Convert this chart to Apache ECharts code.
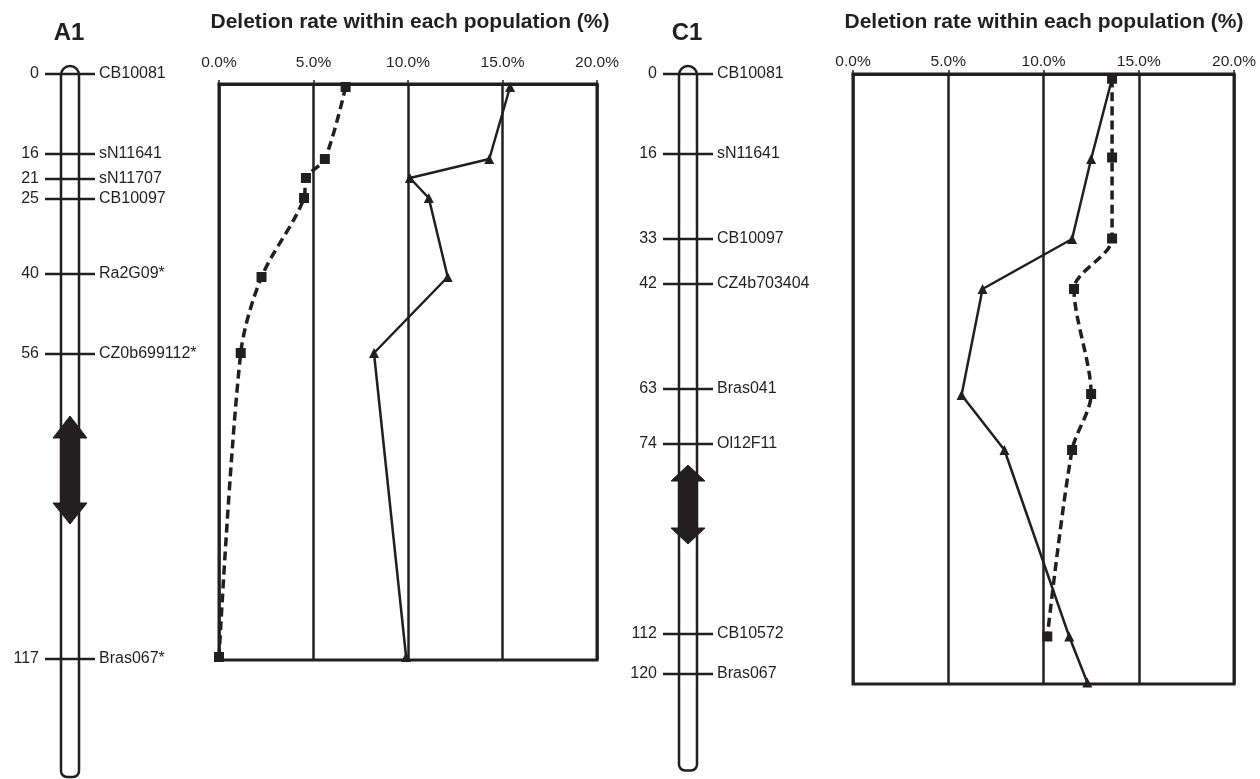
<!DOCTYPE html>
<html>
<head>
<meta charset="utf-8">
<script src="https://cdn.jsdelivr.net/npm/echarts@6/dist/echarts.min.js"></script>
<style>
html,body{margin:0;padding:0;background:#fff;}
#chart{width:1260px;height:779px;}
</style>
</head>
<body>
<div id="chart"></div>
<script>
// ---------- DATA ----------
const chartTitle = 'Deletion rate within each population (%)';
const rateTicks = [0, 5, 10, 15, 20];

// Linkage group A1
const A1_markerPos = [0, 16, 21, 25, 40, 56, 117];
const A1_markerNames = ['CB10081', 'sN11641', 'sN11707', 'CB10097', 'Ra2G09*', 'CZ0b699112*', 'Bras067*'];
const A1_chromExtent = [-1.6, 140.6];
const A1_arrow = [68.4, 72.8, 85.8, 90];
const A1_plotPos = [2.6, 17, 20.8, 24.8, 40.6, 55.8, 116.6];
const A1_rateSquares = [6.7, 5.6, 4.6, 4.5, 2.25, 1.15, 0.0];
const A1_rateTriangles = [15.4, 14.3, 10.1, 11.1, 12.1, 8.2, 9.9];

// Linkage group C1
const C1_markerPos = [0, 16, 33, 42, 63, 74, 112, 120];
const C1_markerNames = ['CB10081', 'sN11641', 'CB10097', 'CZ4b703404', 'Bras041', 'Ol12F11', 'CB10572', 'Bras067'];
const C1_chromExtent = [-1.6, 139.3];
const C1_arrow = [78.2, 81.4, 90.8, 94];
const C1_squarePos = [0.9, 16.7, 32.9, 43, 64, 75.2, 112.5];
const C1_rateSquares = [13.6, 13.6, 13.6, 11.6, 12.5, 11.5, 10.2];
const C1_trianglePos = [0.9, 17, 33, 43, 64.2, 75.2, 112.5, 121.7];
const C1_rateTriangles = [13.6, 12.5, 11.5, 6.8, 5.7, 7.95, 11.35, 12.3];

// ---------- RENDER ----------
const INK = '#231f20';
const FONT = '"Liberation Sans", Arial, Helvetica, sans-serif';

function zip(xs, ys) { return xs.map((x, i) => [x, ys[i]]); }

function bodyRender(params, api) {
  const t = api.coord([0, api.value(0)]);
  const b = api.coord([0, api.value(1)]);
  const w = 18;
  return {
    type: 'rect',
    shape: { x: t[0] - w / 2, y: t[1], width: w, height: b[1] - t[1], r: [9, 9, 6, 6] },
    style: { fill: '#fff', stroke: INK, lineWidth: 2.5 }
  };
}

function arrowRender(params, api) {
  const c = api.coord([0, api.value(0)]);
  const y1 = c[1];
  const y2 = api.coord([0, api.value(1)])[1];
  const y3 = api.coord([0, api.value(2)])[1];
  const y4 = api.coord([0, api.value(3)])[1];
  const x = c[0], hw = 17, sw = 9.5;
  return {
    type: 'polygon',
    shape: { points: [
      [x, y1], [x + hw, y2], [x + sw, y2], [x + sw, y3], [x + hw, y3],
      [x, y4], [x - hw, y3], [x - sw, y3], [x - sw, y2], [x - hw, y2]
    ] },
    style: { fill: INK, stroke: INK, lineWidth: 1 }
  };
}

function makeMarkerRender(names) {
  return function (params, api) {
    const p = api.coord([0, api.value(0)]);
    const txt = { font: '16px ' + FONT, fill: INK, verticalAlign: 'middle' };
    return {
      type: 'group',
      children: [
        { type: 'line', shape: { x1: p[0] - 25, y1: p[1], x2: p[0] + 25, y2: p[1] },
          style: { stroke: INK, lineWidth: 2.5 } },
        { type: 'text', x: p[0] - 31, y: p[1],
          style: Object.assign({ text: String(api.value(0)), align: 'right' }, txt) },
        { type: 'text', x: p[0] + 29, y: p[1],
          style: Object.assign({ text: names[params.dataIndex], align: 'left' }, txt) }
      ]
    };
  };
}

function rateAxis(gridIndex, margin) {
  return {
    gridIndex, type: 'value', position: 'top', min: 0, max: 20, interval: 5,
    axisLine: { show: true, lineStyle: { color: INK, width: 3 } },
    axisTick: { show: true, length: 4, lineStyle: { color: INK, width: 1.5 } },
    axisLabel: { color: INK, fontSize: 15.5, fontFamily: FONT, margin,
      formatter: v => rateTicks.includes(v) ? v.toFixed(1) + '%' : '' },
    splitLine: { show: true, lineStyle: { color: INK, width: 2.5 } }
  };
}
function hiddenX(gridIndex) { return { gridIndex, type: 'value', min: -1, max: 1, show: false }; }
function hiddenY(gridIndex, min, max) {
  return { gridIndex, type: 'value', inverse: true, min, max, show: false, splitLine: { show: false } };
}

const dashedStyle = { color: INK, width: 3.5, type: [9, 5] };
const solidStyle = { color: INK, width: 2.5 };
const titleStyle = { fontSize: 21, fontWeight: 'bold', color: INK, fontFamily: FONT };
const groupStyle = { fontSize: 24, fontWeight: 'bold', color: INK, fontFamily: FONT };

const option = {
  animation: false,
  backgroundColor: '#fff',
  title: [
    { text: 'A1', left: 69, top: 21, textAlign: 'center', padding: 0, textStyle: groupStyle },
    { text: 'C1', left: 687, top: 21, textAlign: 'center', padding: 0, textStyle: groupStyle },
    { text: chartTitle, left: 410, top: 12, textAlign: 'center', padding: 0, textStyle: titleStyle },
    { text: chartTitle, left: 1044, top: 12, textAlign: 'center', padding: 0, textStyle: titleStyle }
  ],
  grid: [
    { left: 20, width: 100, top: 54, height: 725 },
    { left: 219, width: 378, top: 84, height: 576, show: true, borderColor: INK, borderWidth: 3 },
    { left: 638, width: 100, top: 54, height: 725 },
    { left: 853, width: 381, top: 74, height: 610, show: true, borderColor: INK, borderWidth: 3 }
  ],
  xAxis: [hiddenX(0), rateAxis(1, 13), hiddenX(2), rateAxis(3, 4)],
  yAxis: [hiddenY(0, -4, 141), hiddenY(1, 2, 117.2), hiddenY(2, -4, 141), hiddenY(3, 0, 122)],
  series: [
    // A1 chromosome
    { type: 'custom', xAxisIndex: 0, yAxisIndex: 0, renderItem: bodyRender,
      data: [A1_chromExtent], clip: false, z: 1 },
    { type: 'custom', xAxisIndex: 0, yAxisIndex: 0, renderItem: makeMarkerRender(A1_markerNames),
      data: A1_markerPos.map(v => [v]), clip: false, z: 2 },
    { type: 'custom', xAxisIndex: 0, yAxisIndex: 0, renderItem: arrowRender,
      data: [A1_arrow], clip: false, z: 3 },
    // A1 chart
    { type: 'line', xAxisIndex: 1, yAxisIndex: 1, data: zip(A1_rateSquares, A1_plotPos),
      symbol: 'rect', symbolSize: 10, smooth: 0.3, clip: false,
      lineStyle: dashedStyle, itemStyle: { color: INK } },
    { type: 'line', xAxisIndex: 1, yAxisIndex: 1, data: zip(A1_rateTriangles, A1_plotPos),
      symbol: 'triangle', symbolSize: 10, clip: false,
      lineStyle: solidStyle, itemStyle: { color: INK } },
    // C1 chromosome
    { type: 'custom', xAxisIndex: 2, yAxisIndex: 2, renderItem: bodyRender,
      data: [C1_chromExtent], clip: false, z: 1 },
    { type: 'custom', xAxisIndex: 2, yAxisIndex: 2, renderItem: makeMarkerRender(C1_markerNames),
      data: C1_markerPos.map(v => [v]), clip: false, z: 2 },
    { type: 'custom', xAxisIndex: 2, yAxisIndex: 2, renderItem: arrowRender,
      data: [C1_arrow], clip: false, z: 3 },
    // C1 chart
    { type: 'line', xAxisIndex: 3, yAxisIndex: 3, data: zip(C1_rateSquares, C1_squarePos),
      symbol: 'rect', symbolSize: 10, smooth: 0.3, clip: false,
      lineStyle: dashedStyle, itemStyle: { color: INK } },
    { type: 'line', xAxisIndex: 3, yAxisIndex: 3, data: zip(C1_rateTriangles, C1_trianglePos),
      symbol: 'triangle', symbolSize: 10, clip: false,
      lineStyle: solidStyle, itemStyle: { color: INK } }
  ]
};

const chart = echarts.init(document.getElementById('chart'), null, { renderer: 'canvas' });
chart.setOption(option);
</script>
</body>
</html>
